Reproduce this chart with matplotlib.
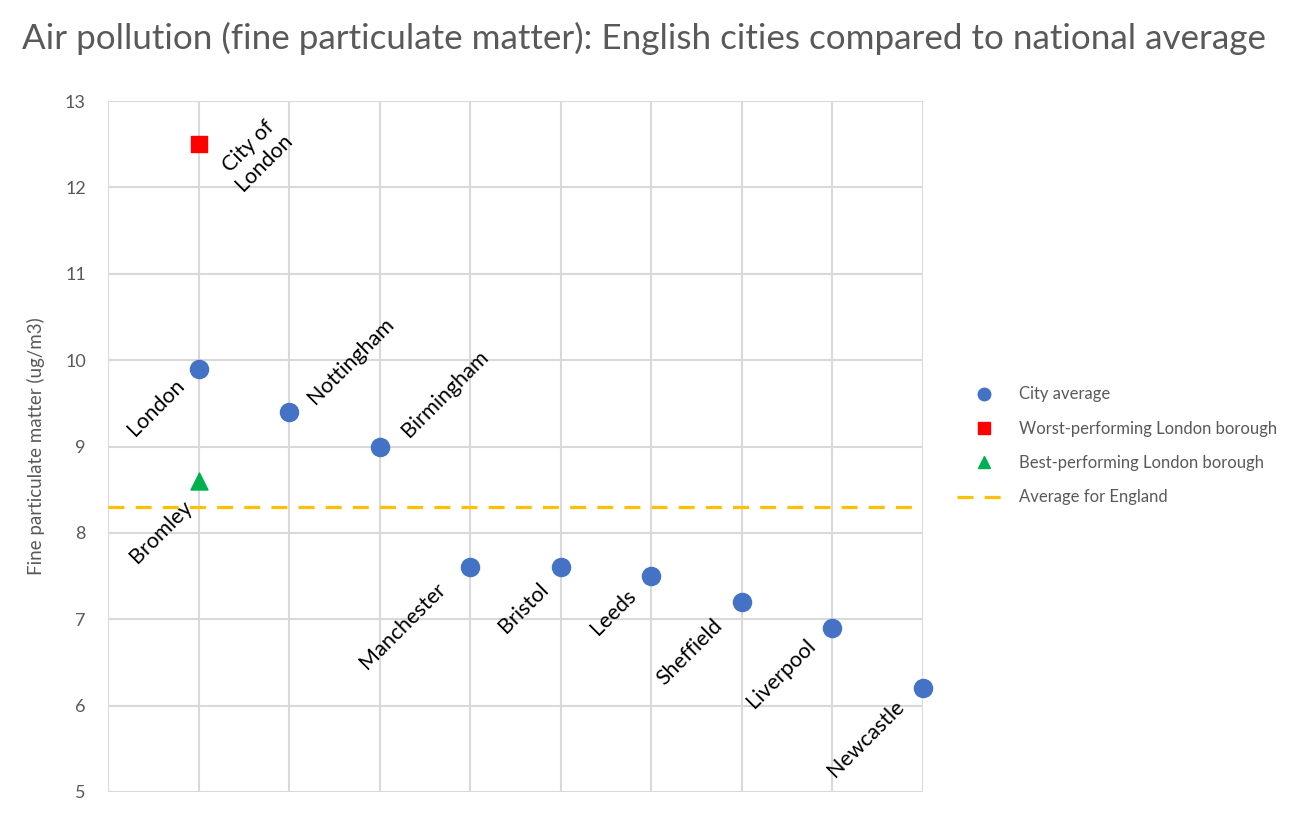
import numpy as np
import matplotlib.pyplot as plt
from matplotlib.lines import Line2D

plt.rcParams['font.family'] = ['Lato', 'DejaVu Sans']

# data
cities = ['London', 'Nottingham', 'Birmingham', 'Manchester', 'Bristol',
          'Leeds', 'Sheffield', 'Liverpool', 'Newcastle']
city_pm = [9.9, 9.4, 9.0, 7.6, 7.6, 7.5, 7.2, 6.9, 6.2]
worst_borough = 'City of\nLondon'
worst_pm = 12.5
best_borough = 'Bromley'
best_pm = 8.6
england_avg = 8.3

# label offsets in pixels (text centre relative to the marker)
city_offsets = [(-43, -39), (62, 51), (65, 53), (-68, -58), (-37, -41),
                (-38, -36), (-52, -50), (-51, -46), (-57, -50)]
worst_offset = (58, -10)
best_offset = (-38, -51)

grey = '#595959'
grid = '#d9d9d9'

fig = plt.figure(figsize=(13.06, 8.15), dpi=100)
ax = fig.add_axes([108 / 1306, 23 / 815, (923 - 108) / 1306, (792 - 101) / 815])

x = np.arange(1, len(cities) + 1)
london_x = x[cities.index('London')]

ax.set_xlim(0, 9)
ax.set_ylim(5, 13)
ax.set_xticks(np.arange(0, 10))
ax.set_yticks(np.arange(5, 14))
ax.set_xticklabels([])
ax.tick_params(axis='both', length=0, colors=grey, labelsize=13)
ax.tick_params(axis='y', pad=16)
ax.grid(True, color=grid, linewidth=1.5, zorder=0)
for s in ax.spines.values():
    s.set_visible(False)

ax.axhline(england_avg, color='#FFC000', linewidth=2.3, dashes=(5, 3.5), zorder=2)
ax.scatter(x, city_pm, s=170, color='#4472C4', zorder=3, clip_on=False)
ax.scatter([london_x], [worst_pm], s=130, marker='s', color='#FF0000', zorder=3)
ax.scatter([london_x], [best_pm], s=150, marker='^', color='#00B050', zorder=3)

lab = dict(textcoords='offset pixels', rotation=45, rotation_mode='anchor',
           ha='center', va='center', fontsize=15.5, color='black', zorder=4)
for xi, yi, name, off in zip(x, city_pm, cities, city_offsets):
    ax.annotate(name, (xi, yi), xytext=off, **lab)
ax.annotate(worst_borough, (london_x, worst_pm), xytext=worst_offset,
            linespacing=1.15, **lab)
ax.annotate(best_borough, (london_x, best_pm), xytext=best_offset, **lab)

ax.set_ylabel('Fine particulate matter (ug/m3)', color=grey, fontsize=13.5, labelpad=14)

fig.text(22 / 1306, 1 - 38 / 815, 'Air pollution (fine particulate matter): English cities compared to national average',
         fontsize=25.2, color=grey, ha='left', va='center')

handles = [
    Line2D([], [], linestyle='none', marker='o', markersize=9, color='#4472C4'),
    Line2D([], [], linestyle='none', marker='s', markersize=8, color='#FF0000'),
    Line2D([], [], linestyle='none', marker='^', markersize=9, color='#00B050'),
    Line2D([], [], color='#FFC000', linewidth=2.3, dashes=(5, 3.5)),
]
labels = ['City average', 'Worst-performing London borough',
          'Best-performing London borough', 'Average for England']
fig.legend(handles, labels, loc='center left', bbox_to_anchor=(942 / 1306, 1 - 446 / 815),
           frameon=False, fontsize=12, labelcolor=grey, labelspacing=1.1,
           handlelength=3.2, handletextpad=0.5)

fig.savefig('out.png', dpi=100)
